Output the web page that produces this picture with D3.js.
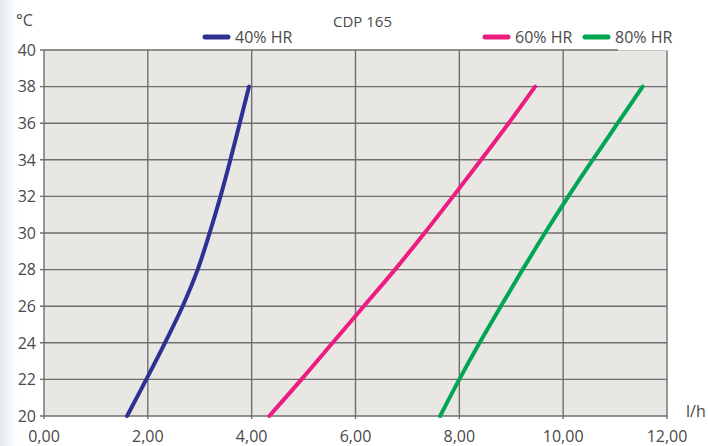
<!DOCTYPE html>
<html>
<head>
<meta charset="utf-8">
<script src="https://cdn.jsdelivr.net/npm/d3@7"></script>
<style>
  body { margin: 0; background: #fff; }
  text { font-family: "Open Sans", sans-serif; fill: #4a4a4a; }
</style>
</head>
<body>
<svg id="chart" width="708" height="446"></svg>
<script>
'use strict';

// Data (°C vs l/h)
const temps = [20, 22, 24, 26, 28, 30, 32, 34, 36, 38];
const hr40 = [1.60, 1.97, 2.33, 2.67, 2.96, 3.19, 3.40, 3.59, 3.77, 3.95];
const hr60 = [4.34, 4.96, 5.56, 6.16, 6.76, 7.33, 7.88, 8.42, 8.95, 9.46];
const hr80 = [7.63, 8.00, 8.39, 8.80, 9.22, 9.65, 10.10, 10.57, 11.05, 11.53];
const seriesNames = ['40% HR', '60% HR', '80% HR'];
const xTicks = [0, 2, 4, 6, 8, 10, 12];
const yTicks = [20, 22, 24, 26, 28, 30, 32, 34, 36, 38, 40];

const COLORS = ['#2e3192', '#ec1c80', '#00a651'];
const GRID = '#6e6e6e';

const svg = d3.select('#chart');

// faint left-edge shading like the scan
const defs = svg.append('defs');
const grad = defs.append('linearGradient').attr('id', 'edge')
  .attr('x1', 0).attr('x2', 1).attr('y1', 0).attr('y2', 0);
grad.append('stop').attr('offset', 0).attr('stop-color', '#e6eaef');
grad.append('stop').attr('offset', 1).attr('stop-color', '#ffffff');
svg.append('rect').attr('x', 0).attr('y', 0).attr('width', 18).attr('height', 446)
  .attr('fill', 'url(#edge)');

const x = d3.scaleLinear().domain([0, 12]).range([44, 667]);
const y = d3.scaleLinear().domain([20, 40]).range([416, 50]);

// plot background
svg.append('rect')
  .attr('x', x(0)).attr('y', y(40))
  .attr('width', x(12) - x(0)).attr('height', y(20) - y(40))
  .attr('fill', '#e8e7e3');

// grid
const grid = svg.append('g').attr('class', 'grid')
  .attr('stroke', GRID).attr('stroke-width', 1.4);

grid.selectAll('.h')
  .data(yTicks)
  .enter()
  .append('line')
    .attr('class', 'h')
    .attr('x1', x(0) - 4).attr('x2', x(12))
    .attr('y1', d => y(d)).attr('y2', d => y(d));

grid.selectAll('.v')
  .data(xTicks)
  .enter()
  .append('line')
    .attr('class', 'v')
    .attr('x1', d => x(d)).attr('x2', d => x(d))
    .attr('y1', y(40)).attr('y2', y(20) + 3);

// legend box hides the end of the top border
svg.append('rect')
  .attr('x', 618).attr('y', 30).attr('width', 60).attr('height', y(40) - 29.5)
  .attr('fill', '#fff');

// axis labels
svg.append('g')
  .selectAll('text')
  .data(yTicks)
  .enter()
  .append('text')
    .attr('x', 36)
    .attr('y', d => y(d))
    .attr('dy', '0.36em')
    .attr('text-anchor', 'end')
    .attr('font-size', 16)
    .text(d => d);

svg.append('g')
  .selectAll('text')
  .data(xTicks)
  .enter()
  .append('text')
    .attr('x', d => x(d))
    .attr('y', 442)
    .attr('text-anchor', 'middle')
    .attr('font-size', 16)
    .text(d => d3.format('.2f')(d).replace('.', ','));

svg.append('text').attr('x', 16).attr('y', 26).attr('font-size', 16).text('°C');
svg.append('text').attr('x', 686).attr('y', 417).attr('font-size', 16).text('l/h');
svg.append('text').attr('x', 333).attr('y', 27).attr('font-size', 15).text('CDP 165');

// series
const line = d3.line()
  .x(d => x(d[0]))
  .y(d => y(d[1]))
  .curve(d3.curveCatmullRom);

[hr40, hr60, hr80].forEach((vals, i) => {
  svg.append('path')
    .datum(vals.map((v, j) => [v, temps[j]]))
    .attr('d', line)
    .attr('fill', 'none')
    .attr('stroke', COLORS[i])
    .attr('stroke-width', 4)
    .attr('stroke-linecap', 'round');
});

// legend
const legendPos = [205, 485, 585];
const legend = svg.append('g')
  .selectAll('g')
  .data(seriesNames)
  .enter()
  .append('g')
    .attr('transform', (d, i) => 'translate(' + legendPos[i] + ', 37)');

legend.append('line')
  .attr('x1', 0).attr('x2', 23)
  .attr('stroke', (d, i) => COLORS[i])
  .attr('stroke-width', 5)
  .attr('stroke-linecap', 'round');

legend.append('text')
  .attr('x', 30)
  .attr('dy', '0.36em')
  .attr('font-size', 16)
  .text(d => d);
</script>
</body>
</html>
